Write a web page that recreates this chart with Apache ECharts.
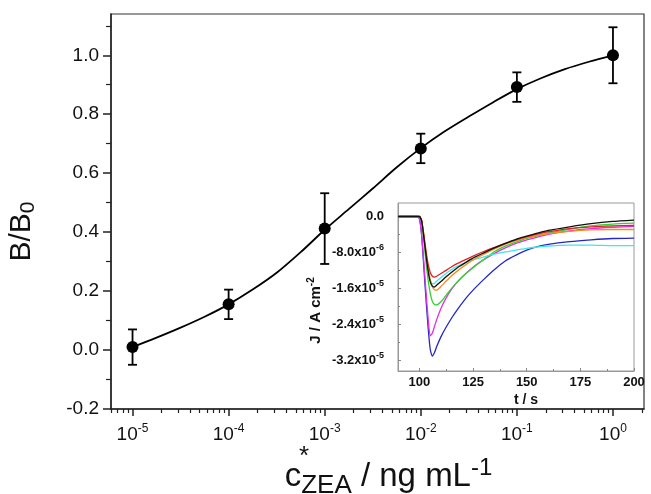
<!DOCTYPE html>
<html>
<head>
<meta charset="utf-8">
<script src="https://cdn.jsdelivr.net/npm/echarts@6/dist/echarts.min.js"></script>
<style>
html, body { margin: 0; padding: 0; background: #fff; }
#chart { width: 651px; height: 494px; }
</style>
</head>
<body>
<div id="chart"></div>
<script>
// calibration points (B/B0 vs c*ZEA)
var concZEA = [1e-5, 1e-4, 1e-3, 1e-2, 1e-1, 1];
var ratioB = [0.01, 0.155, 0.412, 0.684, 0.892, 1.0];
var ratioErr = [0.06, 0.05, 0.12, 0.05, 0.05, 0.095];

// fitted curve (log10 c, B/B0)
var fitLogC = [-5, -4.75, -4.5, -4.25, -4, -3.75, -3.5, -3.25, -3, -2.75, -2.5, -2.25, -2, -1.75, -1.5, -1.25, -1, -0.75, -0.5, -0.25, 0];
var fitRatio = [0.01, 0.042, 0.076, 0.113, 0.155, 0.205, 0.262, 0.332, 0.408, 0.478, 0.548, 0.62, 0.685, 0.742, 0.792, 0.84, 0.885, 0.922, 0.953, 0.978, 1.0];

var decadeExp = [-5, -4, -3, -2, -1, 0];
var yTicks = [-0.2, 0, 0.2, 0.4, 0.6, 0.8, 1.0];
var yMinor = [-0.1, 0.1, 0.3, 0.5, 0.7, 0.9, 1.1];

// inset: current density (x1e-6 A cm-2) vs time
var tSec = [90, 99, 100, 101, 102, 103, 104, 105, 106, 107, 108, 110, 112, 115, 118, 122, 126, 130, 135, 140, 145, 150, 155, 160, 170, 180, 190, 200];
var jBlue = [0, 0, -0.5, -4, -11, -18, -24.5, -29.5, -31.1, -30.3, -29.0, -26.8, -25.0, -22.6, -20.5, -18.0, -15.9, -14.0, -11.8, -9.9, -8.6, -7.5, -6.7, -6.2, -5.6, -5.2, -4.9, -4.8];
var jMagenta = [0, 0, -0.5, -4, -10, -16.5, -22.5, -26.6, -26.0, -24.5, -23.0, -20.5, -18.5, -16.2, -14.4, -12.5, -10.9, -9.6, -8.2, -7.0, -6.0, -5.2, -4.6, -4.0, -3.2, -2.7, -2.4, -2.2];
var jGreen = [0, 0, 0, -1, -5, -10, -14, -17, -18.9, -19.6, -19.7, -19.0, -17.8, -16.0, -14.4, -12.6, -11.0, -9.6, -7.8, -6.6, -5.7, -4.9, -4.3, -3.7, -2.8, -2.1, -1.7, -1.5];
var jCyan = [0, 0, 0, -1, -4.5, -8.5, -12, -14.2, -15.0, -14.9, -14.4, -13.6, -12.8, -11.8, -11.0, -10.2, -9.5, -9.0, -8.4, -7.9, -7.5, -7.1, -6.8, -6.6, -6.4, -6.4, -6.5, -6.5];
var jOrange = [0, 0, 0, -0.8, -4, -8, -11.5, -14, -15.6, -16.3, -16.4, -15.6, -14.6, -13.2, -12.0, -10.6, -9.4, -8.4, -7.2, -6.2, -5.4, -4.7, -4.2, -3.8, -3.3, -3.0, -2.9, -2.9];
var jBlack = [0, 0, 0, -1, -4.5, -8.5, -12, -14.5, -15.5, -15.7, -15.3, -14.5, -13.6, -12.4, -11.3, -10.1, -9.0, -8.1, -7.0, -6.0, -5.1, -4.4, -3.7, -3.1, -2.3, -1.6, -1.1, -0.8];
var jRed = [0, 0, 0, -0.8, -4, -7.5, -10.5, -12.4, -13.3, -13.5, -13.3, -12.7, -12.1, -11.2, -10.4, -9.5, -8.6, -7.8, -6.9, -6.0, -5.2, -4.5, -3.9, -3.4, -2.7, -2.3, -2.1, -2.0];

var insetXTicks = [100, 125, 150, 175, 200];
var insetXMinor = [112.5, 137.5, 162.5, 187.5];
var insetYTicks = [0, -8, -16, -24, -32];
var insetYMant = ['0.0', '-8.0x10', '-1.6x10', '-2.4x10', '-3.2x10'];
var insetYExp = ['', '-6', '-5', '-5', '-5'];
var insetYMinor = [-4, -12, -20, -28];

var X_MIN = -5.224, X_MAX = 0.323;

// minor log ticks 2..9 in each decade
var xMinor = [];
for (var d = -6; d <= 0; d++) {
	for (var k = 2; k <= 9; k++) {
		var v = Math.log10(k) + d;
		if (v > X_MIN && v < X_MAX) xMinor.push(v);
	}
}

var FONT = '"Liberation Sans", Arial, sans-serif';

var insetSeries = [
	{name: 'blue', color: '#2626c4', data: jBlue},
	{name: 'magenta', color: '#e22ee2', data: jMagenta},
	{name: 'green', color: '#2ed42e', data: jGreen},
	{name: 'cyan', color: '#3ee6ee', data: jCyan},
	{name: 'orange', color: '#f0901e', data: jOrange},
	{name: 'red', color: '#e02222', data: jRed},
	{name: 'black', color: '#111111', data: jBlack}
].map(function (s) {
	return {
		type: 'line',
		name: s.name,
		xAxisIndex: 2,
		yAxisIndex: 2,
		showSymbol: false,
		smooth: 0.2,
		lineStyle: {color: s.color, width: 1.3},
		data: tSec.map(function (t, i) { return [t, s.data[i]]; })
	};
});

var myChart = echarts.init(document.getElementById('chart'));
var option = {
	animation: false,
	backgroundColor: '#fff',
	grid: [
		{left: 111, right: 7, top: 14, bottom: 85, outerBoundsMode: 'none', containLabel: false, show: true, borderColor: '#333', borderWidth: 1.2},
		{left: 398, right: 17, top: 203, bottom: 123, outerBoundsMode: 'none', containLabel: false, show: true, backgroundColor: '#fff', borderColor: '#999', borderWidth: 1}
	],
	xAxis: [
		{
			gridIndex: 0, type: 'value', min: X_MIN, max: X_MAX, position: 'bottom',
			axisLine: {onZero: false, lineStyle: {color: '#222', width: 1.5}},
			axisTick: {customValues: decadeExp, length: 7, lineStyle: {color: '#222', width: 1.5}},
			axisLabel: {
				customValues: decadeExp, margin: 14, color: '#111',
				formatter: function (v) { return '{b|10}{s|' + v + '}'; },
				rich: {
					b: {fontSize: 19, fontFamily: FONT, color: '#111', verticalAlign: 'middle'},
					s: {fontSize: 12, fontFamily: FONT, color: '#111', verticalAlign: 'middle', padding: [0, 0, 12, 0]}
				}
			},
			splitLine: {show: false},
			name: '{c|c}{z|ZEA}{n| / ng mL}{p|-1}',
			nameLocation: 'middle', nameGap: 46,
			nameTextStyle: {
				padding: [0, 0, 0, 22],
				rich: {
					c: {fontSize: 33, fontFamily: FONT, color: '#111', verticalAlign: 'middle'},
					z: {fontSize: 26, fontFamily: FONT, color: '#111', verticalAlign: 'middle', padding: [18, 0, 0, 0]},
					n: {fontSize: 33, fontFamily: FONT, color: '#111', verticalAlign: 'middle'},
					p: {fontSize: 24, fontFamily: FONT, color: '#111', verticalAlign: 'middle', padding: [0, 0, 18, 0]}
				}
			}
		},
		{
			gridIndex: 0, type: 'value', min: X_MIN, max: X_MAX, position: 'bottom',
			axisLine: {show: false, onZero: false},
			axisTick: {customValues: xMinor, length: 4, lineStyle: {color: '#222', width: 1.2}},
			axisLabel: {show: false},
			splitLine: {show: false}
		},
		{
			gridIndex: 1, type: 'value', min: 90, max: 200, position: 'bottom',
			axisLine: {onZero: false, lineStyle: {color: '#999', width: 1}},
			axisTick: {inside: true, customValues: insetXTicks, length: 3, lineStyle: {color: '#888'}},
			axisLabel: {customValues: insetXTicks, margin: 5, color: '#111', fontSize: 13, fontWeight: 'bold', fontFamily: FONT},
			splitLine: {show: false},
			name: 't / s', nameLocation: 'middle', nameGap: 22,
			nameTextStyle: {color: '#111', fontSize: 14, fontWeight: 'bold', fontFamily: FONT, padding: [0, 0, 0, 20]}
		},
		{
			gridIndex: 1, type: 'value', min: 90, max: 200, position: 'bottom',
			axisLine: {show: false, onZero: false},
			axisTick: {inside: true, customValues: insetXMinor, length: 2, lineStyle: {color: '#888'}},
			axisLabel: {show: false},
			splitLine: {show: false}
		}
	],
	yAxis: [
		{
			gridIndex: 0, type: 'value', min: -0.2, max: 1.14, position: 'left',
			axisLine: {onZero: false, lineStyle: {color: '#222', width: 1.5}},
			axisTick: {customValues: yTicks, length: 8, lineStyle: {color: '#222', width: 1.5}},
			axisLabel: {
				customValues: yTicks, margin: 12, color: '#111', fontSize: 19, fontFamily: FONT,
				formatter: function (v) { return v.toFixed(1); }
			},
			splitLine: {show: false},
			name: '{b|B/B}{s|0}',
			nameLocation: 'middle', nameRotate: 90, nameGap: 72,
			nameTextStyle: {
				padding: [0, 40, 0, 0],
				rich: {
					b: {fontSize: 30, fontFamily: FONT, color: '#111', verticalAlign: 'middle'},
					s: {fontSize: 21, fontFamily: FONT, color: '#111', verticalAlign: 'middle', padding: [14, 0, 0, 0]}
				}
			}
		},
		{
			gridIndex: 0, type: 'value', min: -0.2, max: 1.14, position: 'left',
			axisLine: {show: false, onZero: false},
			axisTick: {customValues: yMinor, length: 5, lineStyle: {color: '#222', width: 1.2}},
			axisLabel: {show: false},
			splitLine: {show: false}
		},
		{
			gridIndex: 1, type: 'value', min: -34.4, max: 3.0, position: 'left',
			axisLine: {onZero: false, lineStyle: {color: '#999', width: 1}},
			axisTick: {inside: true, customValues: insetYTicks, length: 3, lineStyle: {color: '#888'}},
			axisLabel: {
				customValues: insetYTicks, margin: 14,
				formatter: function (v) {
					var i = insetYTicks.indexOf(v);
					if (i < 0) return '';
					return '{m|' + insetYMant[i] + '}' + (insetYExp[i] ? '{s|' + insetYExp[i] + '}' : '');
				},
				rich: {
					m: {fontSize: 13, fontWeight: 'bold', fontFamily: FONT, color: '#111', verticalAlign: 'middle'},
					s: {fontSize: 9, fontWeight: 'bold', fontFamily: FONT, color: '#111', verticalAlign: 'middle', padding: [0, 0, 9, 0]}
				}
			},
			splitLine: {show: false},
			name: '{a|J / A cm}{s|-2}',
			nameLocation: 'middle', nameRotate: 90, nameGap: 72,
			nameTextStyle: {
				padding: [0, 47, 0, 0],
				rich: {
					a: {fontSize: 15, fontWeight: 'bold', fontFamily: FONT, color: '#111', verticalAlign: 'middle'},
					s: {fontSize: 10, fontWeight: 'bold', fontFamily: FONT, color: '#111', verticalAlign: 'middle', padding: [0, 0, 10, 0]}
				}
			}
		},
		{
			gridIndex: 1, type: 'value', min: -34.4, max: 3.0, position: 'left',
			axisLine: {show: false, onZero: false},
			axisTick: {inside: true, customValues: insetYMinor, length: 2, lineStyle: {color: '#888'}},
			axisLabel: {show: false},
			splitLine: {show: false}
		}
	],
	graphic: [
		{type: 'text', left: 299, top: 444, style: {text: '*', font: '26px ' + FONT, fill: '#111'}}
	],
	series: [
		{
			type: 'line', name: 'fit', xAxisIndex: 0, yAxisIndex: 0,
			showSymbol: false, smooth: 0.3,
			lineStyle: {color: '#000', width: 1.8},
			data: fitLogC.map(function (x, i) { return [x, fitRatio[i]]; }),
			z: 2
		},
		{
			type: 'custom', name: 'error', xAxisIndex: 0, yAxisIndex: 0,
			data: concZEA.map(function (c, i) {
				return [Math.log10(c), ratioB[i] - ratioErr[i], ratioB[i] + ratioErr[i]];
			}),
			encode: {x: 0, y: [1, 2]},
			renderItem: function (params, api) {
				var x = api.value(0);
				var lo = api.coord([x, api.value(1)]);
				var hi = api.coord([x, api.value(2)]);
				var w = 4.5;
				var st = {stroke: '#000', lineWidth: 1.8};
				return {
					type: 'group',
					children: [
						{type: 'line', shape: {x1: hi[0], y1: hi[1], x2: lo[0], y2: lo[1]}, style: st},
						{type: 'line', shape: {x1: hi[0] - w, y1: hi[1], x2: hi[0] + w, y2: hi[1]}, style: st},
						{type: 'line', shape: {x1: lo[0] - w, y1: lo[1], x2: lo[0] + w, y2: lo[1]}, style: st}
					]
				};
			},
			z: 3
		},
		{
			type: 'scatter', name: 'B/B0', xAxisIndex: 0, yAxisIndex: 0,
			symbol: 'circle', symbolSize: 12,
			itemStyle: {color: '#000', opacity: 1},
			data: concZEA.map(function (c, i) { return [Math.log10(c), ratioB[i]]; }),
			z: 4
		}
	].concat(insetSeries)
};
myChart.setOption(option);
</script>
</body>
</html>
